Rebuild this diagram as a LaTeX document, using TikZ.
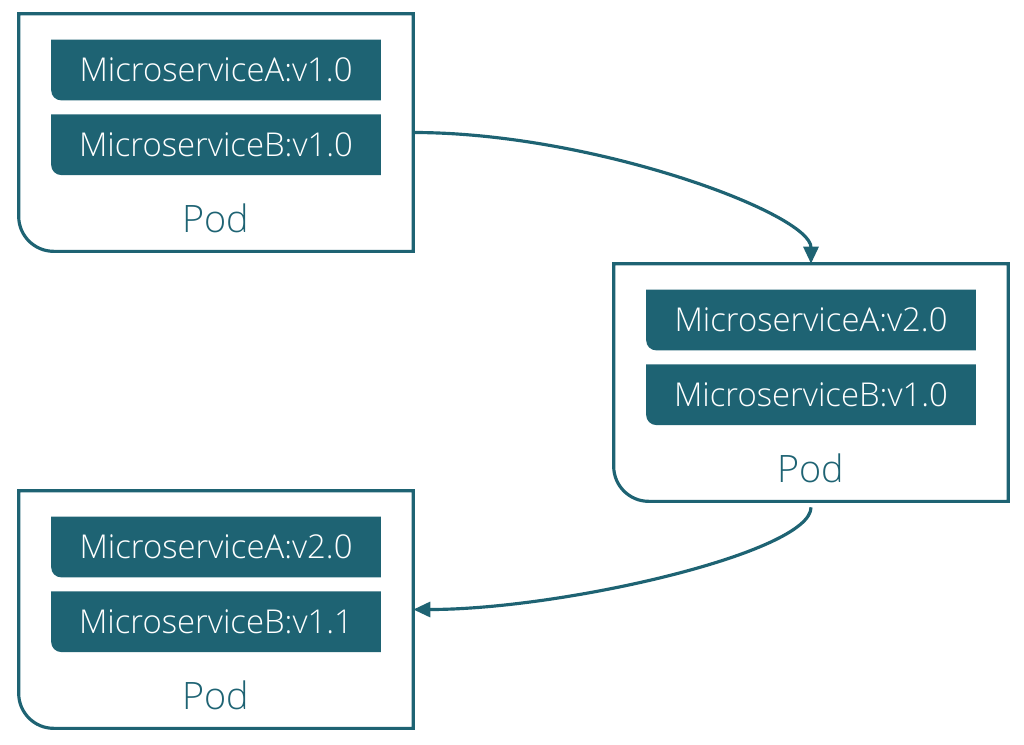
\documentclass[tikz,border=0pt]{standalone}
\usepackage{fontspec}
\setmainfont{Open Sans Light}
\usepackage{xcolor}
\usetikzlibrary{arrows.meta,positioning,backgrounds}
\definecolor{podteal}{RGB}{30,99,115}

\begin{document}
\begin{tikzpicture}[
    x=0.02cm, y=-0.02cm,
    node distance=0.28cm,
    pod/.style={rectangle, inner sep=0pt, minimum width=7.88cm, minimum height=4.74cm},
    svc/.style={rectangle, inner sep=0pt, minimum width=6.58cm, minimum height=1.2cm,
                text=white, font=\fontsize{18.7}{22}\selectfont},
    podlabel/.style={text=podteal, font=\fontsize{21.5}{26}\selectfont},
    podline/.style={draw=podteal, line width=1.8pt},
    arrow/.style={-{Triangle[length=3.4mm,width=3mm]}, line width=1.8pt, draw=podteal, fill=none}
]
\useasboundingbox (0,0) rectangle (1024,744);
% pods
\node[pod] (pod1) at (216,132.5) {};
\node[pod] (pod2) at (811,382.5) {};
\node[pod] (pod3) at (216,609.5) {};
% containers
\node[svc, below=0.52cm of pod1.north] (msA1) {MicroserviceA:v1.0};
\node[svc, below=of msA1] (msB1) {MicroserviceB:v1.0};
\node[podlabel, below=0.46cm of msB1] (lbl1) {Pod};
\node[svc, below=0.52cm of pod2.north] (msA2) {MicroserviceA:v2.0};
\node[svc, below=of msA2] (msB2) {MicroserviceB:v1.0};
\node[podlabel, below=0.46cm of msB2] (lbl2) {Pod};
\node[svc, below=0.52cm of pod3.north] (msA3) {MicroserviceA:v2.0};
\node[svc, below=of msA3] (msB3) {MicroserviceB:v1.1};
\node[podlabel, below=0.46cm of msB3] (lbl3) {Pod};
% outlines
\foreach \p in {pod1,pod2,pod3}
  \draw[podline] (\p.north west) -- ([yshift=0.7cm]\p.south west)
    arc[start angle=180, end angle=270, radius=0.7cm] -- (\p.south east) -- (\p.north east) -- cycle;
\begin{scope}[on background layer]
\foreach \s in {msA1,msB1,msA2,msB2,msA3,msB3}
  \fill[podteal] (\s.north west) -- ([yshift=0.2cm]\s.south west)
    arc[start angle=180, end angle=270, radius=0.2cm] -- (\s.south east) -- (\s.north east) -- cycle;
\end{scope}
% rollout
\draw[arrow] (pod1.east) .. controls +(180,0) and +(0,-50) .. (pod2.north);
\draw[arrow] ([yshift=-0.12cm]pod2.south) .. controls +(0,45) and +(150,0) .. (pod3.east);
\end{tikzpicture}
\end{document}
